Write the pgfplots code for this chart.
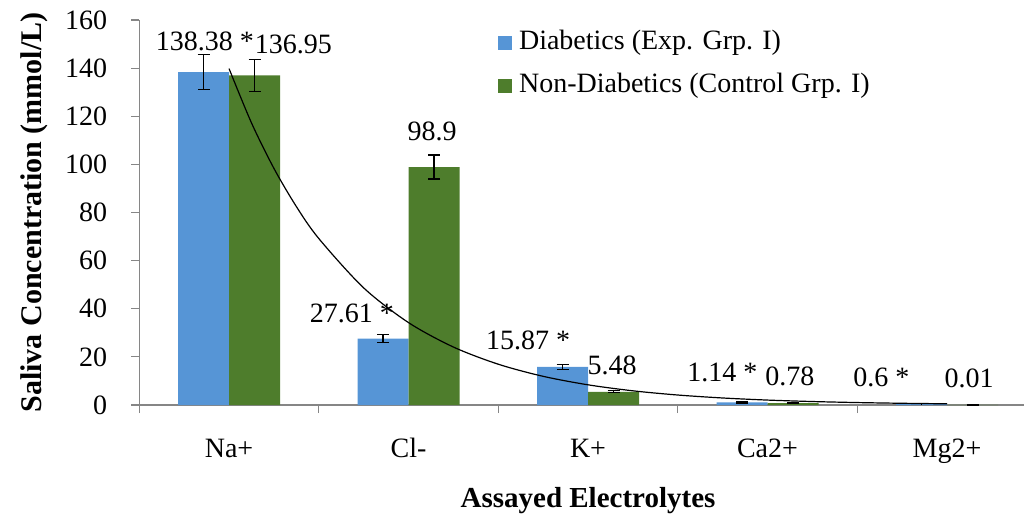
\documentclass[border=0pt]{standalone}
\usepackage{fontspec}
\setmainfont{Liberation Serif}
\usepackage{pgfplots}
\pgfplotsset{compat=1.18}
\usepackage{pgfplotstable}

\definecolor{diabblue}{RGB}{86,149,214}
\definecolor{ctrlgreen}{RGB}{78,125,44}
\definecolor{axisgray}{RGB}{134,134,134}

% mean saliva concentration (mmol/L) with error
\pgfplotstableread{
x  d       de    c       ce
0  138.38  7.3   136.95  6.6
1  27.61   1.7   98.9    5.0
2  15.87   1.0   5.48    0.4
3  1.14    0.3   0.78    0.2
4  0.6     0.1   0.01    0.05
}\electrolytes

% exponential trend of the diabetic group
\pgfplotstableread{
x      y
0      139.8
0.125  117.25
0.25   98.35
0.375  82.48
0.5    69.19
0.75   48.68
1.0    34.24
1.25   24.09
1.5    16.95
1.75   11.92
2.0    8.39
2.25   5.90
2.5    4.15
2.75   2.92
3.0    2.05
3.25   1.445
3.5    1.017
3.75   0.715
4.0    0.503
}\trend

\newcommand{\lblfont}{\fontsize{14}{16}\selectfont}
% half a bar width, in category units (12.75pt / 89.75pt)
\newcommand{\halfbar}{0.1421}

\pgfplotsset{
  errstyle/.style={
    draw=none, no marks, forget plot,
    error bars/.cd, y dir=both, y explicit,
    error bar style={black, line width=0.6pt},
    error mark options={rotate=90, black, mark size=3pt, line width=0.6pt}},
}

\begin{document}
\begin{tikzpicture}
\useasboundingbox (-69.65pt,-55.5pt) rectangle (442.35pt,202.5pt);
\begin{axis}[
  scale only axis,
  width=442.35pt, height=192.5pt,
  xmin=-0.5, xmax=4.429, ymin=0, ymax=160,
  axis x line*=bottom, axis y line*=left,
  axis line style={-, draw=axisgray, line width=0.6pt},
  clip=false,
  tick align=outside,
  major tick length=4pt,
  tick style={draw=axisgray, line width=0.6pt},
  xtick={-0.5,0.5,1.5,2.5,3.5},
  xticklabels={},
  extra x ticks={0,1,2,3,4},
  extra x tick labels={Na+,Cl-,K+,Ca2+,Mg2+},
  extra x tick style={
    tick style={draw=none},
    xticklabel style={font=\lblfont, anchor=base, yshift=-22pt},
  },
  ytick={0,20,...,160},
  yticklabel style={font=\lblfont, xshift=-8.5pt},
  /pgf/number format/assume math mode=true,
  ylabel={Saliva Concentration (mmol/L)},
  every axis y label/.style={
    at={([xshift=-52.5pt]rel axis cs:0,0.5)},
    rotate=90, anchor=center,
    font=\fontsize{15}{17}\selectfont\bfseries},
  legend style={
    draw=none, fill=none,
    at={(rel axis cs:0.4055,0.975)}, anchor=north west,
    inner sep=0pt, outer sep=0pt,
    row sep=8.5pt,
    font=\fontsize{14}{16}\selectfont,
    nodes={inner sep=0pt, text height=10pt, text depth=3pt},
  },
  legend cell align=left,
]

\addplot[ybar, bar width=25.5pt, bar shift=-12.75pt,
  fill=diabblue, draw=none,
  legend image code/.code={\fill[diabblue] (0pt,-3.5pt) rectangle (7pt,3.5pt);}]
  table[x=x, y=d] {\electrolytes};
\addlegendentry{\hspace{3.5pt}Diabetics (Exp. Grp. I)}

\addplot[ybar, bar width=25.5pt, bar shift=12.75pt,
  fill=ctrlgreen, draw=none,
  legend image code/.code={\fill[ctrlgreen] (0pt,-3.5pt) rectangle (7pt,3.5pt);}]
  table[x=x, y=c] {\electrolytes};
\addlegendentry{\hspace{3.5pt}Non-Diabetics (Control Grp. I)}

% error bars, centred on each bar
\addplot[errstyle] table[x expr=\thisrow{x}-\halfbar, y=d, y error=de] {\electrolytes};
\addplot[errstyle] table[x expr=\thisrow{x}+\halfbar, y=c, y error=ce] {\electrolytes};

\addplot[black, line width=0.6pt, smooth, no marks, forget plot]
  table[x=x, y=y] {\trend};

% value labels
\begin{scope}[every node/.style={font=\fontsize{14}{16}\selectfont, inner sep=0pt}]
\node at (axis cs:-0.135,151.2) {138.38 *};
\node at (axis cs:0.359,150.0) {136.95};
\node at (axis cs:1.131,113.6) {98.9};
\node at (axis cs:0.685,38.1) {27.61 *};
\node at (axis cs:1.666,26.7) {15.87 *};
\node at (axis cs:2.134,16.3) {5.48};
\node at (axis cs:2.749,13.5) {1.14 *};
\node at (axis cs:3.125,11.8) {0.78};
\node at (axis cs:3.635,11.4) {0.6 *};
\node at (axis cs:4.123,11.2) {0.01};
\end{scope}

\node[anchor=base, font=\fontsize{14.5}{17}\selectfont\bfseries]
  at ([yshift=-51pt]axis cs:2,0) {Assayed Electrolytes};
\end{axis}
\end{tikzpicture}
\end{document}
